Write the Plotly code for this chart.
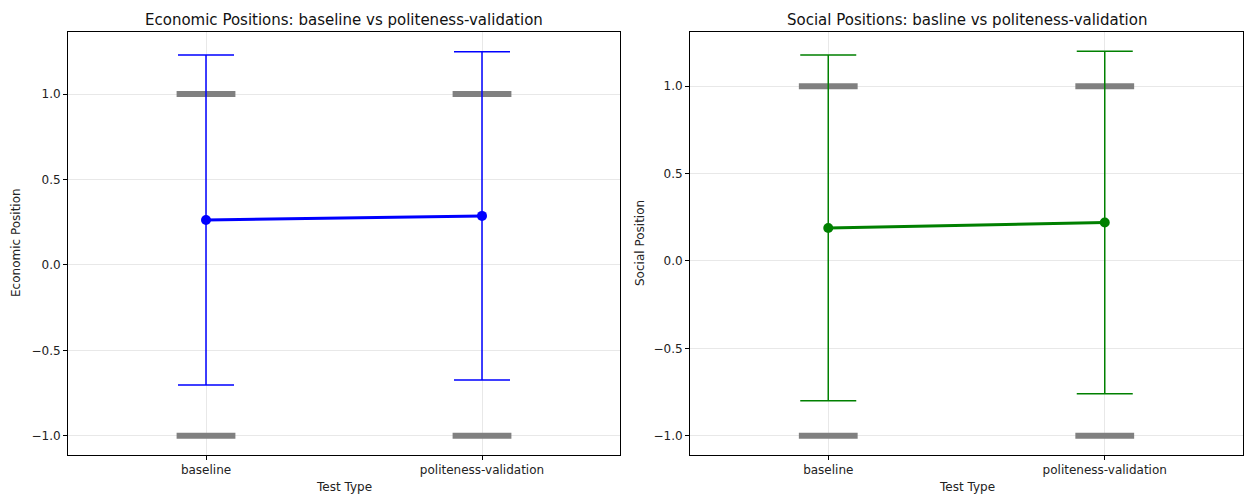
import plotly.graph_objects as go

categories = ["baseline", "politeness-validation"]
econ_mean = [0.263, 0.287]
econ_err = [0.965, 0.960]
soc_mean = [0.189, 0.220]
soc_err = [0.989, 0.980]
# individual responses collapse onto the two extremes
point_values = [-1.0, 1.0]

fig = go.Figure()
W, H = 1244, 495
ml, mr, mt, mb = 68, 1, 32, 40
pw = W - ml - mr
ph = H - mt - mb

def px_x(p):
    return (p - ml) / pw

def px_y(p):
    return (H - mb - p) / ph

panels = [
    (econ_mean, econ_err, "#0000ff", "x", "y",
     "Economic Positions: baseline vs politeness-validation", "Economic Position", (68, 620), 16),
    (soc_mean, soc_err, "#008000", "x2", "y2",
     "Social Positions: basline vs politeness-validation", "Social Position", (690, 1243), 640),
]

for mean, err, col, xa, ya, title, ylab, span, ylx in panels:
    sx, sy = [], []
    for c in categories:
        for v in point_values:
            sx.append(c)
            sy.append(v)
    fig.add_trace(go.Scatter(
        x=sx, y=sy, mode="markers", xaxis=xa, yaxis=ya, showlegend=False,
        marker=dict(symbol="line-ew-open", size=42, color="#808080",
                    line=dict(color="#808080", width=6)),
        hoverinfo="skip"))
    fig.add_trace(go.Scatter(
        x=categories, y=mean, mode="lines+markers", xaxis=xa, yaxis=ya, showlegend=False,
        line=dict(color=col, width=3),
        marker=dict(color=col, size=10),
        error_y=dict(type="data", array=err, visible=True, color=col, thickness=1.5, width=28)))

FONT = "DejaVu Sans"
axis_common = dict(showline=True, linecolor="black", linewidth=1, mirror=True,
                   showgrid=True, gridcolor="rgba(0,0,0,0.09)", gridwidth=1,
                   ticks="outside", ticklen=4, tickcolor="black", zeroline=False,
                   automargin=False,
                   tickfont=dict(family=FONT, size=12, color="#222"))

yticks = [-1, -0.5, 0, 0.5, 1]
ytext = ["\u22121.0", "\u22120.5", "0.0", "0.5", "1.0"]

fig.update_layout(
    width=W, height=H, margin=dict(l=ml, r=mr, t=mt, b=mb),
    plot_bgcolor="white", paper_bgcolor="white",
    xaxis=dict(domain=[0, px_x(620)], type="category", range=[-0.5, 1.5], anchor="y", **axis_common),
    yaxis=dict(domain=[0, 1], range=[-1.112, 1.363], tickvals=yticks, ticktext=ytext,
               anchor="x", **axis_common),
    xaxis2=dict(domain=[px_x(690), 1], type="category", range=[-0.5, 1.5], anchor="y2", **axis_common),
    yaxis2=dict(domain=[0, 1], range=[-1.11, 1.31], tickvals=yticks, ticktext=ytext,
                anchor="x2", **axis_common),
)

for mean, err, col, xa, ya, title, ylab, (a, b), ylx in panels:
    fig.add_annotation(text=title, x=px_x((a + b) / 2), y=px_y(20), xref="paper", yref="paper",
                       yanchor="middle", xanchor="center", showarrow=False,
                       font=dict(family=FONT, size=15, color="#111"))
    fig.add_annotation(text="Test Type", x=px_x((a + b) / 2), y=px_y(487), xref="paper", yref="paper",
                       yanchor="middle", xanchor="center", showarrow=False,
                       font=dict(family=FONT, size=12, color="#222"))
    fig.add_annotation(text=ylab, x=px_x(ylx), y=px_y(243), xref="paper", yref="paper",
                       yanchor="middle", xanchor="center", showarrow=False, textangle=-90,
                       font=dict(family=FONT, size=12, color="#222"))

fig.write_html("out.html", config={"displayModeBar": False},
               post_script="document.body.style.margin='0';")
